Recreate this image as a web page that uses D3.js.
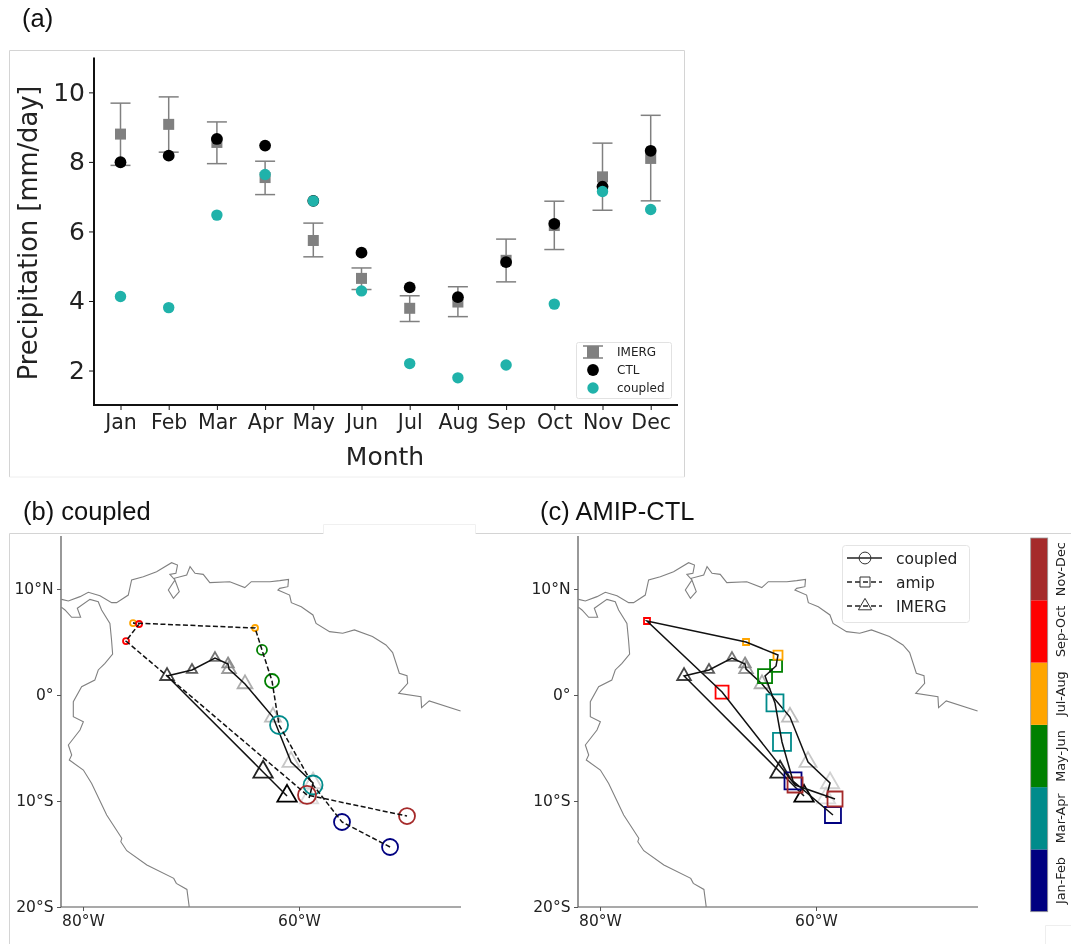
<!DOCTYPE html>
<html>
<head>
<meta charset="utf-8">
<script src="https://cdn.jsdelivr.net/npm/d3@7/dist/d3.min.js"></script>
<style>
  html, body { margin: 0; padding: 0; background: #fff; }
  svg { display: block; filter: blur(0.35px); }
  text { font-family: "DejaVu Sans", sans-serif; fill: #222; }
  .title { font-family: "Liberation Sans", sans-serif; font-size: 25.5px; fill: #111; }
</style>
</head>
<body>
<div id="figure"></div>
<script>
// Panel (a) data, mm/day
const months = ["Jan", "Feb", "Mar", "Apr", "May", "Jun", "Jul", "Aug", "Sep", "Oct", "Nov", "Dec"];
const imerg = [8.80, 9.08, 8.56, 7.55, 5.74, 4.65, 3.79, 3.97, 5.17, 6.17, 7.57, 8.10];
const imergHigh = [9.69, 9.87, 9.15, 8.02, 6.24, 4.95, 4.15, 4.41, 5.78, 6.87, 8.54, 9.34];
const imergLow = [7.90, 8.28, 7.95, 7.06, 5.27, 4.33, 3.41, 3.55, 4.55, 5.48, 6.61, 6.88];
const ctl = [7.99, 8.18, 8.66, 8.47, 6.88, 5.39, 4.39, 4.11, 5.12, 6.22, 7.29, 8.32];
const coupled = [4.13, 3.81, 6.47, 7.64, 6.88, 4.29, 2.20, 1.79, 2.16, 3.91, 7.15, 6.63];
const precipTicks = [2, 4, 6, 8, 10];

// Panels (b) and (c): monthly centre positions, degrees, and relative strength
const coupledLon = [-51.57, -56.02, -58.70, -61.85, -62.50, -63.43, -64.07, -75.37, -74.81, -76.02, -59.26, -50.00];
const coupledLat = [-14.34, -11.98, -8.49, -2.83, 1.32, 4.25, 6.32, 6.79, 6.70, 5.09, -9.43, -11.42];
const coupledAmp = [0.80, 0.80, 0.95, 0.90, 0.70, 0.50, 0.30, 0.30, 0.30, 0.30, 0.90, 0.80];

const amipLon = [-58.43, -62.13, -63.15, -63.80, -64.72, -63.70, -63.52, -66.48, -75.65, -68.70, -61.94, -58.24];
const amipLat = [-11.32, -8.11, -4.43, -0.75, 1.79, 2.74, 3.77, 5.00, 6.98, 0.28, -8.49, -9.81];
const amipAmp = [0.80, 0.85, 0.90, 0.85, 0.70, 0.60, 0.45, 0.30, 0.30, 0.65, 0.75, 0.75];

const imergLon = [-59.07, -58.70, -60.74, -62.41, -65.00, -66.48, -66.57, -67.78, -69.91, -72.22, -63.33, -61.11];
const imergLat = [-9.72, -8.30, -6.32, -2.08, 1.04, 2.45, 2.92, 3.49, 2.36, 1.79, -7.26, -9.53];
const imergAmp = [0.80, 0.80, 0.75, 0.70, 0.65, 0.60, 0.50, 0.45, 0.45, 0.60, 0.85, 0.85];

const seasons = ["Jan-Feb", "Mar-Apr", "May-Jun", "Jul-Aug", "Sep-Oct", "Nov-Dec"];
const seasonColors = ["#000080", "#008b8b", "#008000", "#ffa500", "#ff0000", "#a52a2a"];

const lonTicks = [-80, -60];
const latTicks = [10, 0, -10, -20];

// Coastline of northern South America, lon/lat
const coastNorth = [[-81.98, 9.02], [-81.36, 8.87], [-80.28, 9.28], [-79.51, 9.69], [-78.43, 9.37], [-77.35, 8.71],
  [-76.89, 8.71], [-75.81, 9.43], [-75.5, 10.85], [-74.42, 11.16], [-73.19, 11.63], [-71.8, 12.48], [-71.25, 12.26],
  [-71.4, 11.48], [-71.96, 11.38], [-71.49, 10.85], [-72.1, 9.91], [-71.63, 9.12], [-71.09, 9.75], [-71.55, 11.01],
  [-70.4, 11.32], [-70.09, 12.11], [-69.63, 11.48], [-68.87, 11.38], [-68.26, 10.6], [-66.41, 10.69], [-65.02, 10.13],
  [-64.42, 10.69], [-63.65, 10.69], [-62.7, 10.69], [-61.79, 10.79], [-60.97, 10.91], [-61.03, 10.22], [-61.79, 10.06],
  [-61.95, 9.9], [-60.87, 9.43], [-60.71, 8.71], [-59.79, 8.33], [-58.71, 7.55], [-58.42, 6.76], [-57.17, 5.98],
  [-55.95, 5.82], [-54.87, 6.14], [-53.2, 5.51], [-51.95, 4.72], [-51.33, 4.0], [-50.71, 2.05], [-50, 1.83],
  [-49.94, 1.1], [-50.77, 0.16], [-48.71, -0.16], [-48.65, -1.19], [-47.94, -0.56], [-45.04, -1.51]];
const coastWest = [[-81.98, 8.27], [-81.67, 8.02], [-81.05, 7.33], [-80.22, 7.33], [-80.53, 8.18], [-79.36, 9.02],
  [-78.59, 8.8], [-78.28, 8.02], [-77.51, 6.76], [-77.36, 5.19], [-77.26, 3.87], [-77.97, 2.99], [-78.59, 2.36],
  [-78.91, 1.41], [-80.13, 0.78], [-80.9, -0.63], [-80.9, -2.05], [-79.97, -2.52], [-80.28, -3.3], [-81.36, -4.72],
  [-81.05, -5.66], [-81.27, -6.13], [-79.97, -7.08], [-79.2, -8.34], [-77.81, -11.32], [-76.41, -13.52], [-76.5, -13.84],
  [-75.95, -14.69], [-74.09, -16.04], [-71.6, -17.3], [-71.36, -17.77], [-70.38, -18.34], [-70.17, -19.97]];

const svg = d3.select("#figure").append("svg").attr("width", 1071).attr("height", 944);

// Faint frames left over from the pasted panels
const frame = svg.append("g").attr("fill", "none");
frame.append("path").attr("d", "M9.5,477V50.5H684.5V477").attr("stroke", "#d4d4d4");
frame.append("path").attr("d", "M9.5,477H684.5").attr("stroke", "#eeeeee");
frame.append("path").attr("d", "M9.5,944V533.5H323.5M475.5,533.5H1071").attr("stroke", "#d4d4d4");
frame.append("path").attr("d", "M323.5,533.5V524.5H475.5V533.5").attr("stroke", "#f0f0f0");
frame.append("path").attr("d", "M1045.5,944V925.5H1071").attr("stroke", "#eeeeee");

// Titles
svg.append("text").attr("class", "title").attr("x", 22).attr("y", 27).text("(a)");
svg.append("text").attr("class", "title").attr("x", 23).attr("y", 520).text("(b) coupled");
svg.append("text").attr("class", "title").attr("x", 540).attr("y", 520).text("(c) AMIP-CTL");

// ---- Panel (a) ----
const x = d3.scalePoint().domain(months).range([120.5, 650.7]);
const y = d3.scaleLinear().domain([1, 11]).range([405.3, 57.6]);
const capWidth = 10;

const xAxis = svg.append("g")
  .attr("transform", "translate(0,405)")
  .call(d3.axisBottom(x).tickSize(5).tickPadding(4));
xAxis.select(".domain").remove();
xAxis.selectAll("text").style("font-size", "20.5px");
xAxis.selectAll("line").attr("stroke", "#111");

const yAxis = svg.append("g")
  .attr("transform", "translate(94,0)")
  .call(d3.axisLeft(y).tickValues(precipTicks).tickSize(5).tickPadding(4));
yAxis.select(".domain").remove();
yAxis.selectAll("text").style("font-size", "25px");
yAxis.selectAll("line").attr("stroke", "#111");

// Thick left and bottom spines
svg.append("path")
  .attr("d", `M94,${y(11)}V405H678`)
  .attr("fill", "none")
  .attr("stroke", "#111")
  .attr("stroke-width", 2);

svg.append("text")
  .attr("x", 385).attr("y", 465)
  .attr("text-anchor", "middle")
  .style("font-size", "25px")
  .text("Month");
svg.append("text")
  .attr("transform", "translate(37,233) rotate(-90)")
  .attr("text-anchor", "middle")
  .style("font-size", "25.7px")
  .text("Precipitation [mm/day]");

// IMERG error bars and squares
const bars = svg.append("g").selectAll("g").data(months).enter().append("g")
  .attr("stroke", "#808080").attr("stroke-width", 1.5);
bars.append("line")
  .attr("x1", d => x(d)).attr("x2", d => x(d))
  .attr("y1", (d, i) => y(imergHigh[i])).attr("y2", (d, i) => y(imergLow[i]));
bars.append("line")
  .attr("x1", d => x(d) - capWidth).attr("x2", d => x(d) + capWidth)
  .attr("y1", (d, i) => y(imergHigh[i])).attr("y2", (d, i) => y(imergHigh[i]));
bars.append("line")
  .attr("x1", d => x(d) - capWidth).attr("x2", d => x(d) + capWidth)
  .attr("y1", (d, i) => y(imergLow[i])).attr("y2", (d, i) => y(imergLow[i]));

svg.append("g").selectAll("rect").data(imerg).enter().append("rect")
  .attr("x", (d, i) => x(months[i]) - 5.5)
  .attr("y", d => y(d) - 5.5)
  .attr("width", 11).attr("height", 11)
  .attr("fill", "#808080");

svg.append("g").selectAll("circle").data(ctl).enter().append("circle")
  .attr("cx", (d, i) => x(months[i]))
  .attr("cy", d => y(d))
  .attr("r", 5.9)
  .attr("fill", "#000");

svg.append("g").selectAll("circle").data(coupled).enter().append("circle")
  .attr("cx", (d, i) => x(months[i]))
  .attr("cy", d => y(d))
  .attr("r", 5.7)
  .attr("fill", "#20b2aa");

// Legend of panel (a)
const legendA = svg.append("g");
legendA.append("rect")
  .attr("x", 576.5).attr("y", 342.5).attr("width", 95).attr("height", 56).attr("rx", 2)
  .attr("fill", "#fff").attr("stroke", "#e2e2e2");
legendA.append("path")
  .attr("d", "M583,346H603M583,358H603M593,346V358")
  .attr("stroke", "#808080").attr("stroke-width", 1.5);
legendA.append("rect").attr("x", 587).attr("y", 346).attr("width", 12).attr("height", 12).attr("fill", "#808080");
legendA.append("circle").attr("cx", 593).attr("cy", 370).attr("r", 5.9).attr("fill", "#000");
legendA.append("circle").attr("cx", 593).attr("cy", 388).attr("r", 5.7).attr("fill", "#20b2aa");
legendA.selectAll("text").data(["IMERG", "CTL", "coupled"]).enter().append("text")
  .attr("x", 617)
  .attr("y", (d, i) => 356 + i * 18)
  .style("font-size", "12px")
  .text(d => d);

// ---- Map panels ----
const ampToRadius = d3.scaleLinear().domain([0, 1]).range([0, 10]);
const imergGray = d3.scaleLinear().domain([0, 3, 6, 9, 11]).range(["#dcdcdc", "#bdbdbd", "#8c8c8c", "#444444", "#000000"]);

function drawMapBase(left, id) {
  const lon = d3.scaleLinear().domain([-82.04, -45]).range([left, left + 400]);
  const lat = d3.scaleLinear().domain([-20, 15]).range([907, 536]);
  const g = svg.append("g");

  g.append("clipPath").attr("id", id).append("rect")
    .attr("x", left).attr("y", 536).attr("width", 400).attr("height", 371);

  const coastLine = d3.line().x(d => lon(d[0])).y(d => lat(d[1]));
  g.selectAll("path.coast").data([coastNorth, coastWest]).enter().append("path")
    .attr("class", "coast")
    .attr("d", coastLine)
    .attr("clip-path", `url(#${id})`)
    .attr("fill", "none")
    .attr("stroke", "#808080")
    .attr("stroke-width", 1.1);

  const bottom = g.append("g").attr("transform", "translate(0,907)")
    .call(d3.axisBottom(lon).tickValues(lonTicks).tickSize(4).tickPadding(4)
      .tickFormat(d => `${Math.abs(d)}°W`));
  const side = g.append("g").attr("transform", `translate(${left},0)`)
    .call(d3.axisLeft(lat).tickValues(latTicks).tickSize(4).tickPadding(3.5)
      .tickFormat(d => d === 0 ? "0°" : `${Math.abs(d)}°${d > 0 ? "N" : "S"}`));
  [bottom, side].forEach(a => {
    a.select(".domain").remove();
    a.selectAll("line").attr("stroke", "#555");
    a.selectAll("text").style("font-size", "15.5px");
  });

  g.append("path")
    .attr("d", `M${left},536V907H${left + 400}`)
    .attr("fill", "none")
    .attr("stroke", "#555")
    .attr("stroke-width", 1.2);
  return {g, lon, lat};
}

function drawTrack(map, lons, lats, amps, shape, opts) {
  const pts = lons.map((d, i) => [map.lon(d), map.lat(lats[i])]);
  const marks = map.g.append("g");
  marks.selectAll("path").data(pts).enter().append("path")
    .attr("transform", d => `translate(${d[0]},${d[1]})`)
    .attr("d", (d, i) => {
      const r = ampToRadius(amps[i]);
      const size = shape === d3.symbolSquare ? 4 * r * r
        : shape === d3.symbolTriangle ? Math.sqrt(3) * r * r * 1.3
        : Math.PI * r * r;
      return d3.symbol().type(shape).size(size)();
    })
    .attr("fill", "none")
    .attr("stroke", (d, i) => opts.color(i))
    .attr("stroke-width", 1.8);
  map.g.append("path")
    .attr("d", d3.line()(pts))
    .attr("fill", "none")
    .attr("stroke", "#111")
    .attr("stroke-width", 1.5)
    .attr("stroke-dasharray", opts.dash || null);
}

const seasonColor = i => seasonColors[Math.floor(i / 2)];

// Panel (b): IMERG against the coupled run
const mapB = drawMapBase(61, "clip-b");
drawTrack(mapB, imergLon, imergLat, imergAmp, d3.symbolTriangle, {color: imergGray});
drawTrack(mapB, coupledLon, coupledLat, coupledAmp, d3.symbolCircle, {color: seasonColor, dash: "5,2.5"});

// Panel (c): IMERG against AMIP
const mapC = drawMapBase(578, "clip-c");
drawTrack(mapC, imergLon, imergLat, imergAmp, d3.symbolTriangle, {color: imergGray});
drawTrack(mapC, amipLon, amipLat, amipAmp, d3.symbolSquare, {color: seasonColor});

// Legend of panel (c)
const legendC = svg.append("g");
legendC.append("rect")
  .attr("x", 842.5).attr("y", 545.5).attr("width", 127).attr("height", 77).attr("rx", 3)
  .attr("fill", "#fff").attr("stroke", "#e4e4e4");
const legendRows = [
  {label: "coupled", shape: d3.symbolCircle, size: 110, dash: null},
  {label: "amip", shape: d3.symbolSquare, size: 100, dash: "5,3"},
  {label: "IMERG", shape: d3.symbolTriangle, size: 75, dash: "5,3"}
];
legendRows.forEach((row, i) => {
  const ly = 558 + i * 24;
  legendC.append("line")
    .attr("x1", 847).attr("x2", 882).attr("y1", ly).attr("y2", ly)
    .attr("stroke", "#222").attr("stroke-width", 1.3)
    .attr("stroke-dasharray", row.dash);
  legendC.append("path")
    .attr("transform", `translate(865,${ly})`)
    .attr("d", d3.symbol().type(row.shape).size(row.size)())
    .attr("fill", "#fff")
    .attr("fill-opacity", 0)
    .attr("stroke", "#333")
    .attr("stroke-width", 1);
  legendC.append("text")
    .attr("x", 896).attr("y", ly + 5.5)
    .style("font-size", "15.5px")
    .text(row.label);
});

// Discrete season colour bar
const barScale = d3.scaleBand().domain(seasons).range([911.7, 538]);
const colorBar = svg.append("g");
colorBar.selectAll("rect").data(seasons).enter().append("rect")
  .attr("x", 1030.7)
  .attr("y", d => barScale(d))
  .attr("width", 17)
  .attr("height", barScale.bandwidth())
  .attr("fill", (d, i) => seasonColors[i]);
colorBar.append("rect")
  .attr("x", 1030.7).attr("y", 538).attr("width", 17).attr("height", 373.7)
  .attr("fill", "none").attr("stroke", "#999").attr("stroke-width", 0.8);
colorBar.selectAll("text").data(seasons).enter().append("text")
  .attr("transform", d => `translate(1064.5,${barScale(d) + barScale.bandwidth() / 2}) rotate(-90)`)
  .attr("text-anchor", "middle")
  .style("font-size", "12.8px")
  .text(d => d);
</script>
</body>
</html>
